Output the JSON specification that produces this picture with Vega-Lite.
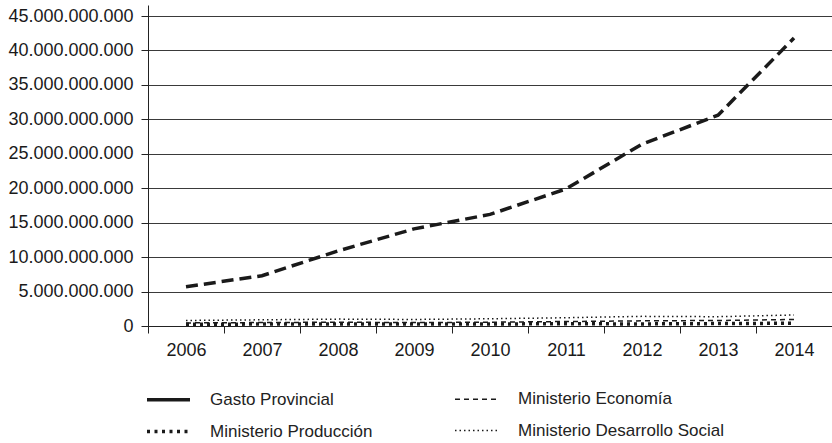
{
  "$schema": "https://vega.github.io/schema/vega-lite/v6.json",
  "autosize": {"type": "none"},
  "padding": {"left": 148, "top": 5, "right": 0, "bottom": 117},
  "width": 684,
  "height": 321,
  "data": {
    "values": [
      {"anio": "2006", "serie": "Gasto Provincial", "valor": 5700000000},
      {"anio": "2007", "serie": "Gasto Provincial", "valor": 7300000000},
      {"anio": "2008", "serie": "Gasto Provincial", "valor": 10900000000},
      {"anio": "2009", "serie": "Gasto Provincial", "valor": 14100000000},
      {"anio": "2010", "serie": "Gasto Provincial", "valor": 16200000000},
      {"anio": "2011", "serie": "Gasto Provincial", "valor": 19900000000},
      {"anio": "2012", "serie": "Gasto Provincial", "valor": 26400000000},
      {"anio": "2013", "serie": "Gasto Provincial", "valor": 30600000000},
      {"anio": "2014", "serie": "Gasto Provincial", "valor": 41800000000},
      {"anio": "2006", "serie": "Ministerio Economía", "valor": 450000000},
      {"anio": "2007", "serie": "Ministerio Economía", "valor": 500000000},
      {"anio": "2008", "serie": "Ministerio Economía", "valor": 550000000},
      {"anio": "2009", "serie": "Ministerio Economía", "valor": 500000000},
      {"anio": "2010", "serie": "Ministerio Economía", "valor": 550000000},
      {"anio": "2011", "serie": "Ministerio Economía", "valor": 650000000},
      {"anio": "2012", "serie": "Ministerio Economía", "valor": 750000000},
      {"anio": "2013", "serie": "Ministerio Economía", "valor": 800000000},
      {"anio": "2014", "serie": "Ministerio Economía", "valor": 950000000},
      {"anio": "2006", "serie": "Ministerio Producción", "valor": 250000000},
      {"anio": "2007", "serie": "Ministerio Producción", "valor": 280000000},
      {"anio": "2008", "serie": "Ministerio Producción", "valor": 300000000},
      {"anio": "2009", "serie": "Ministerio Producción", "valor": 280000000},
      {"anio": "2010", "serie": "Ministerio Producción", "valor": 300000000},
      {"anio": "2011", "serie": "Ministerio Producción", "valor": 320000000},
      {"anio": "2012", "serie": "Ministerio Producción", "valor": 300000000},
      {"anio": "2013", "serie": "Ministerio Producción", "valor": 350000000},
      {"anio": "2014", "serie": "Ministerio Producción", "valor": 400000000},
      {"anio": "2006", "serie": "Ministerio Desarrollo Social", "valor": 800000000},
      {"anio": "2007", "serie": "Ministerio Desarrollo Social", "valor": 900000000},
      {"anio": "2008", "serie": "Ministerio Desarrollo Social", "valor": 1000000000},
      {"anio": "2009", "serie": "Ministerio Desarrollo Social", "valor": 950000000},
      {"anio": "2010", "serie": "Ministerio Desarrollo Social", "valor": 1050000000},
      {"anio": "2011", "serie": "Ministerio Desarrollo Social", "valor": 1200000000},
      {"anio": "2012", "serie": "Ministerio Desarrollo Social", "valor": 1400000000},
      {"anio": "2013", "serie": "Ministerio Desarrollo Social", "valor": 1350000000},
      {"anio": "2014", "serie": "Ministerio Desarrollo Social", "valor": 1600000000}
    ]
  },
  "encoding": {
    "x": {
      "field": "anio", "type": "ordinal",
      "scale": {"type": "band", "paddingInner": 0, "paddingOuter": 0},
      "axis": {
        "title": null, "labelAngle": 0, "tickBand": "extent", "tickSize": 7,
        "labelPadding": 8, "domainColor": "#222", "tickColor": "#222", "grid": false
      }
    },
    "y": {
      "field": "valor", "type": "quantitative",
      "scale": {"domain": [0, 46600000000], "nice": false},
      "axis": {
        "title": null,
        "values": [0, 5000000000, 10000000000, 15000000000, 20000000000, 25000000000, 30000000000, 35000000000, 40000000000, 45000000000],
        "format": ",d", "tickSize": 7, "labelPadding": 8,
        "grid": true, "gridColor": "#3a3a3a", "gridOpacity": 1, "gridWidth": 1,
        "domainColor": "#222", "tickColor": "#222"
      }
    }
  },
  "layer": [
    {
      "mark": {"type": "line", "color": "#1a1a1a"},
      "encoding": {
        "strokeDash": {
          "field": "serie", "type": "nominal",
          "scale": {
            "domain": ["Gasto Provincial", "Ministerio Economía", "Ministerio Producción", "Ministerio Desarrollo Social"],
            "range": [[12, 6], [5, 4], [3, 4], [1.5, 3]]
          },
          "legend": null
        },
        "strokeWidth": {
          "field": "serie", "type": "nominal",
          "scale": {
            "type": "ordinal",
            "domain": ["Gasto Provincial", "Ministerio Economía", "Ministerio Producción", "Ministerio Desarrollo Social"],
            "range": [3.5, 1.5, 3.5, 1.5]
          },
          "legend": null
        }
      }
    },
    {
      "transform": [{"filter": "false"}],
      "mark": {"type": "line", "color": "#1a1a1a"},
      "encoding": {
        "strokeDash": {
          "field": "serie", "type": "nominal",
          "scale": {
            "domain": ["Gasto Provincial", "Ministerio Economía", "Ministerio Producción", "Ministerio Desarrollo Social"],
            "range": [[100, 0], [5, 4], [3, 4.5], [1.5, 3]]
          },
          "legend": {
            "title": null, "orient": "none", "legendX": -3, "legendY": 371,
            "columns": 2, "direction": "horizontal",
            "symbolType": "stroke", "symbolSize": 1849, "labelOffset": 18,
            "columnPadding": 79, "rowPadding": -11, "labelLimit": 400,
            "labelFont": "Liberation Sans", "labelFontSize": 17, "labelColor": "#222",
            "symbolStrokeColor": "#1a1a1a"
          }
        },
        "strokeWidth": {
          "field": "serie", "type": "nominal",
          "scale": {
            "type": "ordinal",
            "domain": ["Gasto Provincial", "Ministerio Economía", "Ministerio Producción", "Ministerio Desarrollo Social"],
            "range": [3.5, 1.3, 3.5, 1.3]
          },
          "legend": {
            "title": null, "orient": "none", "legendX": -3, "legendY": 371,
            "columns": 2, "direction": "horizontal",
            "symbolType": "stroke", "symbolSize": 1849, "labelOffset": 18,
            "columnPadding": 79, "rowPadding": -11, "labelLimit": 400,
            "labelFont": "Liberation Sans", "labelFontSize": 17, "labelColor": "#222",
            "symbolStrokeColor": "#1a1a1a"
          }
        }
      }
    }
  ],
  "resolve": {"scale": {"strokeDash": "independent", "strokeWidth": "independent"}},
  "config": {
    "view": {"stroke": null},
    "locale": {"number": {"decimal": ",", "thousands": ".", "grouping": [3], "currency": ["$", ""]}},
    "axis": {"labelFont": "Liberation Sans", "labelFontSize": 18, "labelColor": "#1a1a1a"}
  }
}
